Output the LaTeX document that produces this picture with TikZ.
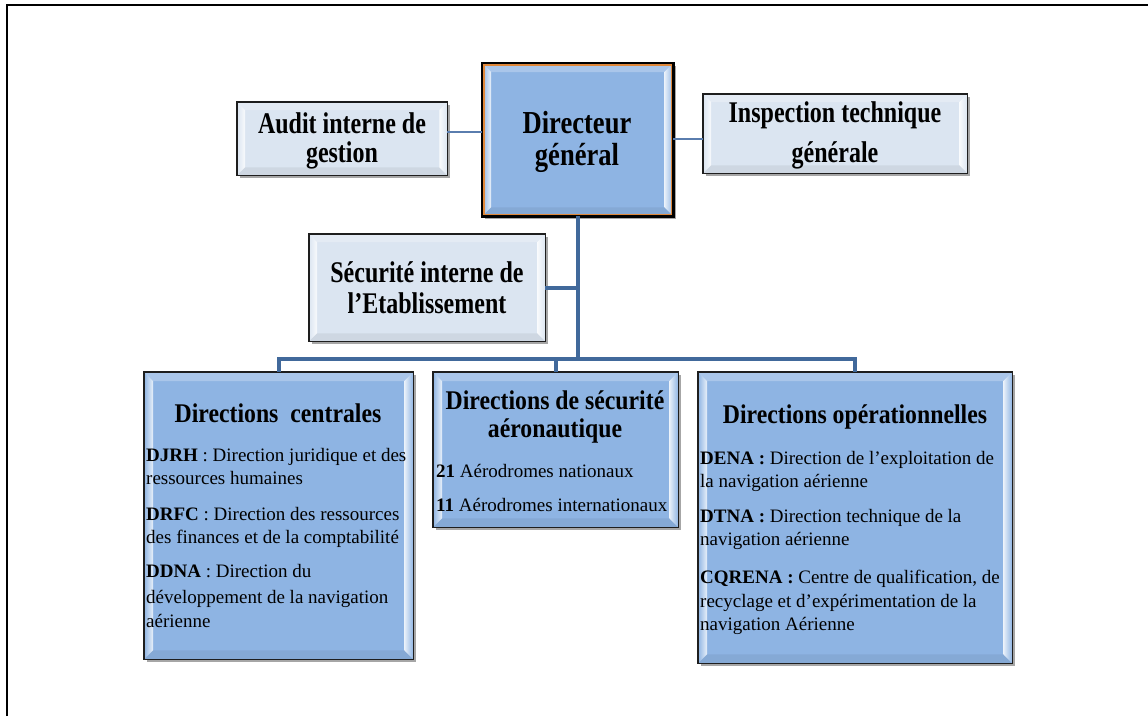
\documentclass[tikz,border=0pt]{standalone}
\usepackage{fontspec}
\setmainfont{Liberation Serif}
\newfontfamily\topfont[FakeStretch=0.80]{Liberation Serif}
\newfontfamily\dgfont[FakeStretch=0.83]{Liberation Serif}
\newfontfamily\titfont[FakeStretch=0.88]{Liberation Serif}
\usetikzlibrary{calc,shadows}
\definecolor{boxblue}{HTML}{8EB4E3}
\definecolor{boxlight}{HTML}{DBE5F1}
\definecolor{connthick}{HTML}{41699B}
\definecolor{connthin}{HTML}{5A7DAE}
\definecolor{dgorange}{HTML}{E0883A}
\definecolor{edge}{HTML}{1E1E1E}
\tikzset{
  boxbase/.style={rectangle, inner sep=0pt, anchor=north west,
    drop shadow={shadow xshift=2.5pt, shadow yshift=-3pt, opacity=0.35, fill=black}},
  bluebox/.style={boxbase, fill=boxblue},
  lightbox/.style={boxbase, fill=boxlight},
  boxline/.style={draw=edge, line width=1.6pt},
  toptxt/.style={anchor=base, inner sep=0pt, font=\topfont\bfseries\fontsize{30}{30}\selectfont},
  dgtxt/.style={anchor=base, inner sep=0pt, font=\dgfont\bfseries\fontsize{32}{32}\selectfont},
  tittxt/.style={anchor=base, inner sep=0pt, font=\titfont\bfseries\fontsize{27}{27}\selectfont},
  bodytxt/.style={anchor=base west, inner sep=0pt, font=\fontsize{19}{19}\selectfont},
  thinconn/.style={draw=connthin, line width=1.3pt},
  thickconn/.style={draw=connthick, line width=3.6pt, line join=miter},
  framestyle/.style={draw=black, line width=2.2pt}
}
\newcommand{\mybevel}[3]{%
  \shade[left color=#3, right color=white!80!#3]
    (#1.north west) -- ($(#1.north west)+(#2,#2)$) -- ($(#1.south west)+(#2,-#2)$) -- (#1.south west) -- cycle;
  \shade[left color=white!80!#3, right color=#3]
    (#1.north east) -- ($(#1.north east)+(-#2,#2)$) -- ($(#1.south east)+(-#2,-#2)$) -- (#1.south east) -- cycle;
  \fill[white, opacity=0.25]
    (#1.north west) -- ($(#1.north west)+(#2,#2)$) -- ($(#1.north east)+(-#2,#2)$) -- (#1.north east) -- cycle;
  \fill[black, opacity=0.06]
    (#1.south west) -- ($(#1.south west)+(#2,-#2)$) -- ($(#1.south east)+(-#2,-#2)$) -- (#1.south east) -- cycle;
}
\begin{document}
\begin{tikzpicture}[x=1pt, y=-1pt]
\useasboundingbox (0,0) rectangle (1148,716);
\fill[white] (0,0) rectangle (1148,716);
% outer frame (top and left edges)
\draw[framestyle] (7,716) -- (7,5) -- (1148,5);

% boxes
\node[lightbox, minimum width=210pt, minimum height=73pt] (audit) at (237,102) {};
\node[bluebox,  minimum width=191pt, minimum height=153pt] (dg) at (482,63) {};
\node[lightbox, minimum width=264pt, minimum height=79pt] (insp) at (703,94) {};
\node[lightbox, minimum width=236pt, minimum height=107pt] (secu) at (309,234) {};
\node[bluebox,  minimum width=269pt, minimum height=287pt] (dleft) at (144,372) {};
\node[bluebox,  minimum width=245pt, minimum height=155pt] (dmid) at (433,372) {};
\node[bluebox,  minimum width=314pt, minimum height=291pt] (dright) at (698,372) {};

\mybevel{audit}{8}{boxlight}
\mybevel{dg}{9}{boxblue}
\mybevel{insp}{8}{boxlight}
\mybevel{secu}{8}{boxlight}
\mybevel{dleft}{9}{boxblue}
\mybevel{dmid}{9}{boxblue}
\mybevel{dright}{9}{boxblue}

\draw[boxline] (audit.north west) rectangle (audit.south east);
\draw[boxline] (insp.north west) rectangle (insp.south east);
\draw[boxline] (secu.north west) rectangle (secu.south east);
\draw[boxline] (dleft.north west) rectangle (dleft.south east);
\draw[boxline] (dmid.north west) rectangle (dmid.south east);
\draw[boxline] (dright.north west) rectangle (dright.south east);
\draw[draw=black, line width=2.2pt] (dg.north west) rectangle (dg.south east);
\draw[draw=dgorange, line width=1.6pt] ($(dg.north west)+(1.9,1.9)$) rectangle ($(dg.south east)+(-1.9,-1.9)$);

% connectors
\coordinate (ya) at (0,132);
\coordinate (yi) at (0,139);
\coordinate (ys) at (0,288);
\coordinate (bus) at (0,359);
\draw[thinconn] (audit.east |- ya) -- (dg.west |- ya);
\draw[thinconn] (dg.east |- yi) -- (insp.west |- yi);
\draw[thickconn] (dg.south) -- (dg.south |- bus);
\draw[thickconn] (secu.east |- ys) -- (dg.south |- ys);
\draw[thickconn] (dleft.north) -- (dleft.north |- bus) -- (dright.north |- bus) -- (dright.north);
\draw[thickconn] (dmid.north |- bus) -- (dmid.north);

% top texts
\node[toptxt] (auditA) at (342,133) {Audit interne de};
\node[toptxt] (auditB) at (342,162) {gestion};
\node[dgtxt] (dgA) at (577,133) {Directeur};
\node[dgtxt] (dgB) at (577,165) {général};
\node[toptxt] (inspA) at (835,122) {Inspection technique};
\node[toptxt] (inspB) at (835,162) {générale};
\node[toptxt] (secuA) at (427,282) {Sécurité interne de};
\node[toptxt] (secuB) at (427,313) {l’Etablissement};

% left box
\node[tittxt] (lt) at (278,422) {Directions\ \ centrales};
\node[bodytxt] (l1) at (146,461) {\textbf{DJRH} : Direction juridique et des};
\node[bodytxt] (l2) at (146,484) {ressources humaines};
\node[bodytxt] (l3) at (146,520) {\textbf{DRFC} : Direction des ressources};
\node[bodytxt] (l4) at (146,543) {des finances et de la comptabilité};
\node[bodytxt] (l5) at (146,577) {\textbf{DDNA} : Direction du};
\node[bodytxt] (l6) at (146,603) {développement de la navigation};
\node[bodytxt] (l7) at (146,627) {aérienne};

% middle box
\node[tittxt] (mtA) at (555,409) {Directions de sécurité};
\node[tittxt] (mtB) at (555,437) {aéronautique};
\node[bodytxt] (m1) at (436,477) {\textbf{21} Aérodromes nationaux};
\node[bodytxt] (m2) at (436,511) {\textbf{11} Aérodromes internationaux};

% right box
\node[tittxt] (rt) at (855,423) {Directions opérationnelles};
\node[bodytxt] (r1) at (700,464) {\textbf{DENA :} Direction de l’exploitation de};
\node[bodytxt] (r2) at (700,487) {la navigation aérienne};
\node[bodytxt] (r3) at (700,522) {\textbf{DTNA :} Direction technique de la};
\node[bodytxt] (r4) at (700,545) {navigation aérienne};
\node[bodytxt] (r5) at (700,583) {\textbf{CQRENA :} Centre de qualification, de};
\node[bodytxt] (r6) at (700,607) {recyclage et d’expérimentation de la};
\node[bodytxt] (r7) at (700,630) {navigation Aérienne};
\end{tikzpicture}
\end{document}
